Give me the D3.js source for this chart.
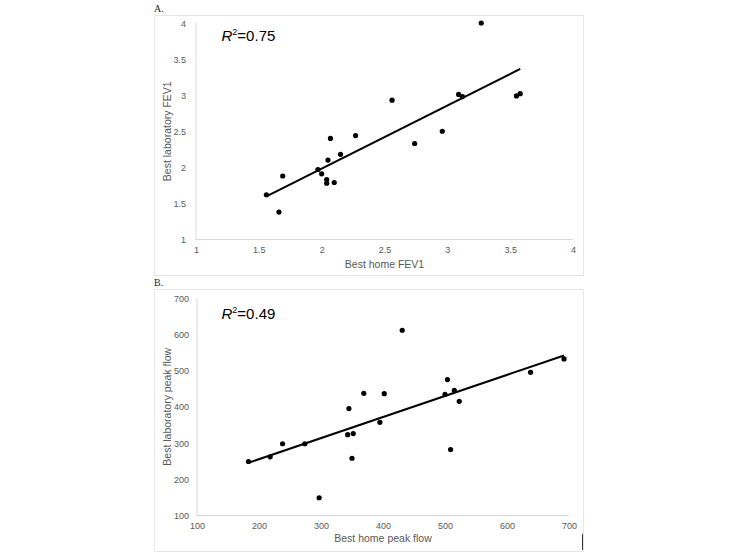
<!DOCTYPE html>
<html><head><meta charset="utf-8">
<script src="https://cdn.jsdelivr.net/npm/d3@7/dist/d3.min.js"></script>
<style>body{margin:0;background:#fff}svg{display:block}</style>
</head><body>
<svg id="c" width="733" height="556"></svg>
<script>
// Panel A: FEV1
const fev1Home = [1.56,1.66,1.69,1.97,2.00,2.04,2.04,2.05,2.07,2.10,2.15,2.27,2.56,2.74,2.96,3.09,3.12,3.27,3.55,3.58];
const fev1Lab  = [1.62,1.38,1.88,1.97,1.91,1.83,1.78,2.10,2.40,1.79,2.18,2.44,2.93,2.33,2.50,3.01,2.98,4.00,2.99,3.02];
const fev1Ticks = [1,1.5,2,2.5,3,3.5,4];
// Panel B: peak flow
const pefHome = [183,218,238,274,297,343,345,350,352,369,395,402,431,500,504,509,515,523,638,692];
const pefLab  = [249,262,298,298,149,323,395,258,326,437,357,436,611,434,475,282,445,415,495,532];
const pefTicks = [100,200,300,400,500,600,700];

const svg = d3.select('#c');
const font = 'Liberation Sans, Arial, sans-serif';

function regress(xs, ys){
  const n = xs.length, mx = d3.mean(xs), my = d3.mean(ys);
  let sxy=0, sxx=0;
  for(let i=0;i<n;i++){ sxy+=(xs[i]-mx)*(ys[i]-my); sxx+=(xs[i]-mx)**2; }
  const b = sxy/sxx; return {b, a: my-b*mx};
}

function panel(o){
  const g = svg.append('g');
  g.append('text').attr('x', o.frame[0]).attr('y', o.frame[1]-3.5)
    .attr('font-family','Liberation Serif, Times New Roman, serif').attr('font-size',10).attr('fill','#222').text(o.label);
  g.append('rect').attr('x',o.frame[0]+0.5).attr('y',o.frame[1]+0.5)
    .attr('width',o.frame[2]-o.frame[0]).attr('height',o.frame[3]-o.frame[1])
    .attr('fill','none').attr('stroke','#e6e6e6');
  const x = d3.scaleLinear().domain(o.xd).range(o.xr);
  const y = d3.scaleLinear().domain(o.yd).range(o.yr);
  // axis lines
  g.append('line').attr('x1',x(o.xd[0])).attr('x2',x(o.xd[1])).attr('y1',y(o.yd[0])).attr('y2',y(o.yd[0])).attr('stroke','#d9d9d9');
  g.append('line').attr('x1',x(o.xd[0])).attr('x2',x(o.xd[0])).attr('y1',y(o.yd[0])).attr('y2',y(o.yd[1])).attr('stroke','#d9d9d9');
  // ticks
  const xa = d3.axisBottom(x).tickValues(o.ticksX).tickSize(0).tickPadding(0).tickFormat(d=>String(d));
  const ya = d3.axisLeft(y).tickValues(o.ticksY).tickSize(0).tickPadding(0).tickFormat(d=>String(d));
  const gx = g.append('g').attr('transform',`translate(0,${y(o.yd[0])+13.5})`).call(xa);
  const gy = g.append('g').attr('transform',`translate(${o.yLabelRight},0)`).call(ya);
  [gx,gy].forEach(a=>{ a.select('.domain').remove(); a.selectAll('text').attr('font-family',font).attr('font-size',9).attr('fill','#595959'); });
  gx.selectAll('text').attr('dy',0);
  gy.selectAll('text').attr('dy','0.35em');
  // titles
  g.append('text').attr('x',(o.xr[0]+o.xr[1])/2).attr('y',o.xTitleY).attr('text-anchor','middle')
    .attr('font-family',font).attr('font-size',10.5).attr('fill','#595959').text(o.xTitle);
  g.append('text').attr('transform',`translate(${o.yTitleX},${(o.yr[0]+o.yr[1])/2}) rotate(-90)`).attr('text-anchor','middle')
    .attr('font-family',font).attr('font-size',10.5).attr('fill','#595959').text(o.yTitle);
  // trend
  const r = regress(o.xs, o.ys);
  const [x0,x1] = d3.extent(o.xs);
  g.append('line').attr('x1',x(x0)).attr('y1',y(r.a+r.b*x0)).attr('x2',x(x1)).attr('y2',y(r.a+r.b*x1))
    .attr('stroke','#000').attr('stroke-width',2);
  // points
  g.selectAll('circle').data(o.xs.map((d,i)=>[d,o.ys[i]])).join('circle')
    .attr('cx',d=>x(d[0])).attr('cy',d=>y(d[1])).attr('r',2.6).attr('fill','#000');
  // R2
  const t = g.append('text').attr('x',221.5).attr('y',o.r2Y).attr('font-family',font).attr('font-size',15).attr('fill','#000');
  t.append('tspan').attr('font-style','italic').text('R');
  t.append('tspan').attr('font-size',9).attr('dy',-6).text('2');
  t.append('tspan').attr('dy',6).text('=' + o.r2);
  return g;
}

panel({label:'A.', frame:[154,15,583,275], xd:[1,4], yd:[1,4], xr:[196,573], yr:[239.5,23],
  ticksX:fev1Ticks, ticksY:fev1Ticks, xs:fev1Home, ys:fev1Lab, yLabelRight:186,
  xTitle:'Best home FEV1', yTitle:'Best laboratory FEV1', xTitleY:268, yTitleX:170.5, r2Y:41, r2:'0.75'});
const gb = panel({label:'B.', frame:[154,289,583,551], xd:[100,700], yd:[100,700], xr:[197,569], yr:[515.5,298],
  ticksX:pefTicks, ticksY:pefTicks, xs:pefHome, ys:pefLab, yLabelRight:189,
  xTitle:'Best home peak flow', yTitle:'Best laboratory peak flow', xTitleY:542, yTitleX:170.5, r2Y:319, r2:'0.49'});
gb.append('line').attr('x1',582.5).attr('x2',582.5).attr('y1',534).attr('y2',550).attr('stroke','#333').attr('stroke-width',1);
</script>
</body></html>
